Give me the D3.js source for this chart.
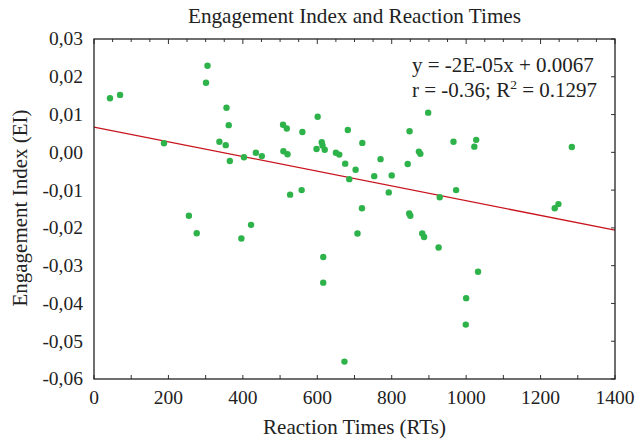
<!DOCTYPE html>
<html><head><meta charset="utf-8">
<script src="https://cdn.jsdelivr.net/npm/d3@7"></script>
<style>body{margin:0;background:#fff}svg{display:block}text{font-family:"Liberation Serif","Times New Roman",serif;fill:#222}</style>
</head><body><svg id="c" width="635" height="440"></svg>
<script>
const rt = [43,70,188,255,276,301,305,337,354,356,362,365,396,403,422,435,451,508,518,509,520,527,558,560,601,598,612,614,620,616,616,650,659,673,675,682,686,703,708,720,721,753,770,792,800,843,847,848,850,873,877,882,887,898,926,929,966,973,999,1000,1022,1027,1032,1238,1248,1284];
const ei = [0.0143,0.0152,0.0024,-0.0168,-0.0214,0.0184,0.0229,0.0028,0.0019,0.0118,0.0072,-0.0023,-0.0228,-0.0013,-0.0192,-0.0001,-0.0010,0.0073,0.0063,0.0003,-0.0005,-0.0112,-0.0100,0.0054,0.0094,0.0009,0.0027,0.0018,0.0007,-0.0277,-0.0345,-0.0001,-0.0006,-0.0554,-0.0030,0.0059,-0.0071,-0.0046,-0.0215,-0.0148,0.0025,-0.0063,-0.0018,-0.0106,-0.0061,-0.0031,-0.0162,0.0056,-0.0168,0.0002,-0.0004,-0.0215,-0.0224,0.0105,-0.0252,-0.0119,0.0028,-0.0100,-0.0456,-0.0386,0.0015,0.0033,-0.0316,-0.0148,-0.0137,0.0014];
const xTicks = [0,200,400,600,800,1000,1200,1400];
const yTicks = [0.03,0.02,0.01,0.00,-0.01,-0.02,-0.03,-0.04,-0.05,-0.06];
const fitIntercept = 0.0067, fitSlope = -1.95e-5;
const fitX = [0,1400];
const title = "Engagement Index and Reaction Times";
const xLabel = "Reaction Times (RTs)";
const yLabel = "Engagement Index (EI)";
const eqLines = ["y = -2E-05x + 0.0067", "r = -0.36; R", "2", " = 0.1297"];

const svg = d3.select("#c");
const L=94,R=615,T=39,B=379;
const x = d3.scaleLinear().domain([0,1400]).range([L,R]);
const y = d3.scaleLinear().domain([-0.06,0.03]).range([B,T]);
const fmt = v => d3.format(".2f")(v).replace(".",",").replace("−","-");

const g = svg.append("g").attr("stroke","#333").attr("stroke-width",1);
d3.range(0,1401,100).forEach(v=>g.append("line").attr("x1",x(v)).attr("x2",x(v)).attr("y1",B).attr("y2",B-4));
d3.range(0,1401,50).forEach(v=>g.append("line").attr("x1",x(v)).attr("x2",x(v)).attr("y1",T).attr("y2",T+(v%200===0?5:3)));
yTicks.forEach(v=>g.append("line").attr("x1",R).attr("x2",R-4).attr("y1",y(v)).attr("y2",y(v)));

svg.append("line").attr("x1",x(fitX[0])).attr("y1",y(fitIntercept+fitSlope*fitX[0]))
  .attr("x2",x(fitX[1])).attr("y2",y(fitIntercept+fitSlope*fitX[1]))
  .attr("stroke","#c8141e").attr("stroke-width",1.3);

svg.append("g").selectAll("circle").data(rt.map((d,i)=>[d,ei[i]])).join("circle")
  .attr("cx",d=>x(d[0])).attr("cy",d=>y(d[1])).attr("r",3.2).attr("fill","#2eb34b");

svg.append("rect").attr("x",L).attr("y",T).attr("width",R-L).attr("height",B-T)
  .attr("fill","none").attr("stroke","#222").attr("stroke-width",1.3);

svg.append("g").selectAll("text").data(yTicks).join("text")
  .attr("x",L-11).attr("y",d=>y(d)).attr("dy","0.33em").attr("text-anchor","end")
  .attr("font-size",19.5).text(fmt);
svg.append("g").selectAll("text").data(xTicks).join("text")
  .attr("x",d=>x(d)).attr("y",404).attr("text-anchor","middle")
  .attr("font-size",19.5).text(d=>d);

svg.append("text").attr("x",(L+R)/2).attr("y",23).attr("text-anchor","middle").attr("font-size",21.2).text(title);
svg.append("text").attr("x",(L+R)/2).attr("y",434).attr("text-anchor","middle").attr("font-size",21).text(xLabel);
svg.append("text").attr("transform",`translate(27,208) rotate(-90)`).attr("text-anchor","middle").attr("font-size",21).text(yLabel);

svg.append("text").attr("x",412).attr("y",72).attr("font-size",21).text(eqLines[0]);
const t2 = svg.append("text").attr("x",412).attr("y",97).attr("font-size",21);
t2.append("tspan").text(eqLines[1]);
t2.append("tspan").attr("dy",-8).attr("font-size",13.5).text(eqLines[2]);
t2.append("tspan").attr("dy",8).text(eqLines[3]);
</script></body></html>
